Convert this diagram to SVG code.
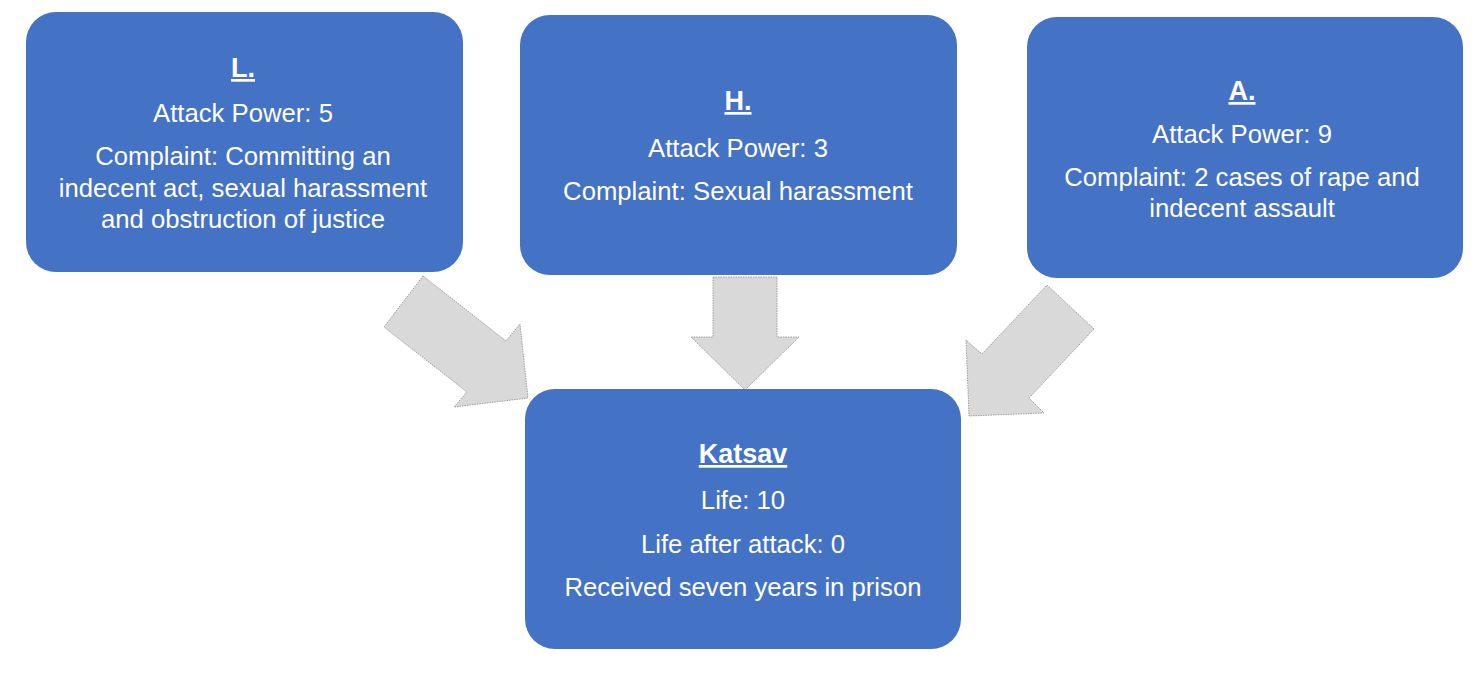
<svg xmlns="http://www.w3.org/2000/svg" width="1483" height="674" viewBox="0 0 1483 674">
<style>
.box{fill:#4472C4;}
.t{font-family:"Liberation Sans",Arial,sans-serif;font-size:25.7px;fill:#ffffff;text-anchor:middle;}
.h{font-weight:bold;text-decoration:underline;font-size:27px;}
.arr{fill:#D9D9D9;stroke:#8c8c8c;stroke-width:0.8;stroke-dasharray:1.5 1;}
</style>
<rect width="1483" height="674" fill="#ffffff"/>
<g id="connectors">
<polygon class="arr" points="423,276 384,327 467,392 454,407 528,398 520,324 506,341"/>
<polygon class="arr" points="713,277 777,277 777,337 799,337 745,390 691,337 713,337"/>
<polygon class="arr" points="1047,285 1094,329 1029,398 1044,413 969,416 966,340 982,354"/>
</g>
<g id="node-L">
<rect class="box" x="26" y="12" width="437" height="260" rx="30"/>
<text class="t h" x="243" y="77">L.</text>
<text class="t" x="243" y="122">Attack Power: 5</text>
<text class="t" x="243" y="165">Complaint: Committing an</text>
<text class="t" x="243" y="197">indecent act, sexual harassment</text>
<text class="t" x="243" y="228">and obstruction of justice</text>
</g>
<g id="node-H">
<rect class="box" x="520" y="15" width="437" height="260" rx="30"/>
<text class="t h" x="738" y="110">H.</text>
<text class="t" x="738" y="157">Attack Power: 3</text>
<text class="t" x="738" y="200">Complaint: Sexual harassment</text>
</g>
<g id="node-A">
<rect class="box" x="1027" y="17" width="436" height="261" rx="30"/>
<text class="t h" x="1242" y="100">A.</text>
<text class="t" x="1242" y="143">Attack Power: 9</text>
<text class="t" x="1242" y="186">Complaint: 2 cases of rape and</text>
<text class="t" x="1242" y="217">indecent assault</text>
</g>
<g id="node-Katsav">
<rect class="box" x="525" y="389" width="436" height="260" rx="30"/>
<text class="t h" x="743" y="463">Katsav</text>
<text class="t" x="743" y="509">Life: 10</text>
<text class="t" x="743" y="553">Life after attack: 0</text>
<text class="t" x="743" y="596">Received seven years in prison</text>
</g>
</svg>
